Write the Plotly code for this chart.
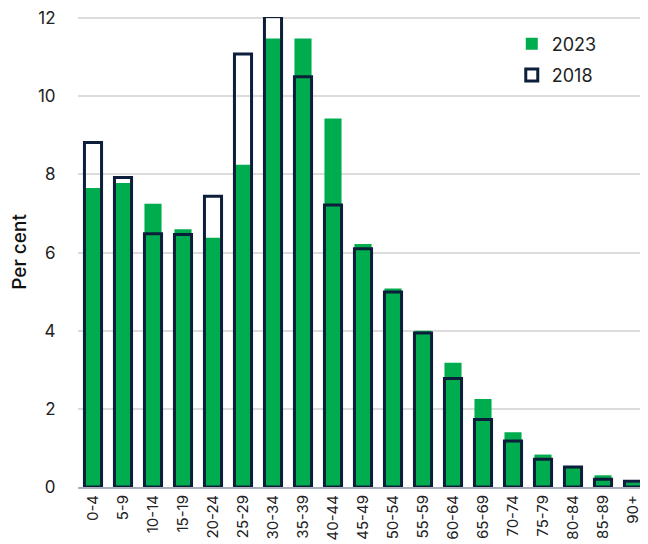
import plotly.graph_objects as go

age_groups = ["0-4", "5-9", "10-14", "15-19", "20-24", "25-29", "30-34", "35-39",
              "40-44", "45-49", "50-54", "55-59", "60-64", "65-69", "70-74",
              "75-79", "80-84", "85-89", "90+"]
share_2023 = [7.65, 7.78, 7.25, 6.60, 6.38, 8.25, 11.48, 11.48, 9.43, 6.22, 5.08,
              4.00, 3.18, 2.25, 1.40, 0.83, 0.50, 0.30, 0.12]
share_2018 = [8.82, 7.92, 6.48, 6.46, 7.44, 11.08, 12.04, 10.50, 7.22, 6.10, 4.99,
              3.94, 2.78, 1.73, 1.18, 0.71, 0.51, 0.20, 0.15]
y_ticks = [0, 2, 4, 6, 8, 10, 12]

GREEN = "#00AD4E"
NAVY = "#0C1E3A"
FONT = "Inter, Lato, sans-serif"

fig = go.Figure()
fig.add_trace(go.Bar(
    x=age_groups, y=share_2023, name="2023", width=0.57,
    marker=dict(color=GREEN, line=dict(width=0)),
    legendgroup="a", cliponaxis=False,
))
fig.add_trace(go.Bar(
    x=age_groups, y=share_2018, name="2018", width=0.57,
    marker=dict(color="rgba(0,0,0,0)", line=dict(color=NAVY, width=3)),
    legendgroup="b", cliponaxis=False,
))

fig.update_layout(
    width=640, height=536,
    barmode="overlay",
    plot_bgcolor="white", paper_bgcolor="white",
    margin=dict(l=70, r=0, t=9, b=57),
    font=dict(family=FONT, size=16, color="#222222"),
    showlegend=True,
    legend=dict(x=0.761, y=0.982, xanchor="left", yanchor="top",
                traceorder="grouped", tracegroupgap=5,
                font=dict(size=18, color="#222222"),
                bgcolor="rgba(0,0,0,0)", itemwidth=30),
    xaxis=dict(
        type="category", tickangle=-90, showgrid=False,
        showline=True, linecolor="#A9B0B7", linewidth=2,
        ticks="", tickfont=dict(size=15, color="#222222"),
        range=[-0.5, 18.5],
    ),
    yaxis=dict(
        range=[0, 12.03], tickvals=y_ticks, showgrid=True,
        gridcolor="#DCDCDC", gridwidth=1.5, zeroline=False,
        ticks="outside", ticklen=18, tickcolor="rgba(0,0,0,0)",
        ticklabeloverflow="allow",
        tickfont=dict(size=17, color="#222222"),
        title=dict(text="Per cent", font=dict(size=19, color="#111111", weight=500), standoff=8),
    ),
)

fig.write_html("out.html")
